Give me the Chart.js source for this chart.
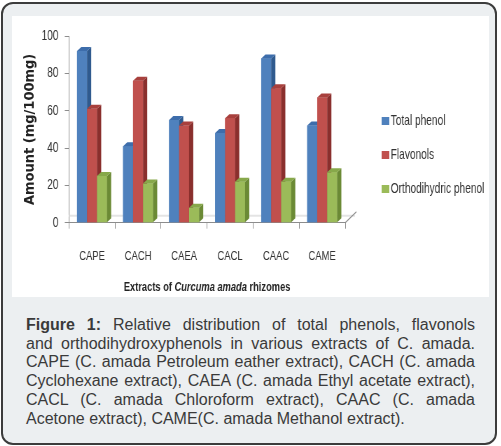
<!DOCTYPE html>
<html>
<head>
<meta charset="utf-8">
<script src="https://cdn.jsdelivr.net/npm/chart.js@4.4.0/dist/chart.umd.min.js"></script>
<style>
  html, body { margin: 0; padding: 0; background: #fff; }
  body { width: 501px; height: 446px; position: relative; overflow: hidden; }
  #frame { position: absolute; left: 1px; top: 2px; width: 492px; height: 439px;
           border: 2px solid #3c3c3c; border-radius: 12px; background: #eceff1; }
  #plot { position: absolute; left: 12px; top: 16px; width: 477px; height: 281px;
          background: #fff; overflow: hidden; }
  /* the original figure uses a narrow font, so the canvas is squeezed horizontally */
  #plot canvas { transform: scaleX(0.7); transform-origin: 0 0; }
  #caption { position: absolute; left: 26px; top: 316px; width: 449px;
             font: 16px/18.7px "Liberation Sans", Arial, sans-serif; color: #3a3a3a; }
  #caption div { text-align: justify; text-align-last: justify; }
  #caption div.last { text-align-last: left; }
</style>
</head>
<body>
<div id="frame"></div>
<div id="plot"><canvas id="chart" width="681" height="281" style="width:681px;height:281px"></canvas></div>
<div id="caption">
  <div><b>Figure 1:</b> Relative distribution of total phenols, flavonols</div>
  <div>and orthodihydroxyphenols in various extracts of C. amada.</div>
  <div>CAPE (C. amada Petroleum eather extract), CACH (C. amada</div>
  <div>Cyclohexane extract), CAEA (C. amada Ethyl acetate extract),</div>
  <div>CACL (C. amada Chloroform extract), CAAC (C. amada</div>
  <div class="last">Acetone extract), CAME(C. amada Methanol extract).</div>
</div>
<script>
// data (mg/100mg)
const categories = ['CAPE', 'CACH', 'CAEA', 'CACL', 'CAAC', 'CAME'];
const totalPhenol = [92, 41, 55, 48, 88, 52];
const flavonols = [61, 76, 52, 56, 72, 67];
const orthodihydric = [25, 21, 8, 22, 22, 27];
const seriesNames = ['Total phenol', 'Flavonols', 'Orthodihydric phenol'];
const yTicks = [0, 20, 40, 60, 80, 100];

const fronts = ['#4f81bd', '#c0504d', '#9bbb59'];
const sides = ['#2f5a8e', '#8a2f2d', '#6b8a35'];
const tops = ['#3d6dab', '#a8403d', '#87a84a'];

const SX = 0.7;                // horizontal squeeze of the canvas
const DX = 6, DY = 4;          // 3d depth of the bars
const FONT = "'Liberation Sans', Arial, sans-serif";

// fake 3d: redraw each bar front with a side and a cap, category by category
const bar3d = {
  id: 'bar3d',
  beforeDatasetsDraw(chart) {
    const { ctx, chartArea: a } = chart;
    ctx.save();
    ctx.strokeStyle = '#e4e4e4';
    ctx.lineWidth = 2;
    ctx.beginPath();
    ctx.moveTo(a.left, a.bottom - 7);
    ctx.lineTo(a.right + 14, a.bottom - 7);
    ctx.stroke();
    ctx.strokeStyle = '#8c8c8c';
    ctx.lineWidth = 1.2;
    ctx.beginPath();
    ctx.moveTo(a.right, a.bottom);
    ctx.lineTo(a.right + 16, a.bottom - 11);
    ctx.stroke();
    ctx.restore();
  },
  afterDatasetsDraw(chart) {
    const ctx = chart.ctx;
    const metas = chart.data.datasets.map((d, i) => chart.getDatasetMeta(i));
    ctx.save();
    for (let j = 0; j < categories.length; j++) {
      metas.forEach((meta, i) => {
        const p = meta.data[j].getProps(['x', 'y', 'base', 'width'], true);
        const l = p.x - p.width / 2, r = p.x + p.width / 2;
        ctx.fillStyle = fronts[i];
        ctx.fillRect(l, p.y, p.width, p.base - p.y);
        ctx.fillStyle = sides[i];
        ctx.beginPath();
        ctx.moveTo(r, p.y);
        ctx.lineTo(r + DX, p.y - DY);
        ctx.lineTo(r + DX, p.base - DY);
        ctx.lineTo(r, p.base);
        ctx.closePath();
        ctx.fill();
        ctx.fillStyle = tops[i];
        ctx.beginPath();
        ctx.moveTo(l, p.y);
        ctx.lineTo(l + DX, p.y - DY);
        ctx.lineTo(r + DX, p.y - DY);
        ctx.lineTo(r, p.y);
        ctx.closePath();
        ctx.fill();
      });
    }
    ctx.restore();
  },
  afterDraw(chart) {
    const { ctx, chartArea: a } = chart;
    ctx.save();
    ctx.fillStyle = '#222';
    ctx.textBaseline = 'middle';

    // y title, drawn unsqueezed (wide bold font in the original)
    ctx.save();
    ctx.translate(25.7, (a.top + a.bottom) / 2);
    ctx.scale(1 / SX, 1);
    ctx.rotate(-Math.PI / 2);
    ctx.font = "bold 13px 'DejaVu Sans', sans-serif";
    ctx.textAlign = 'center';
    ctx.fillText('Amount (mg/100mg)', 0, 0);
    ctx.restore();

    // x title with the italic species name
    const parts = [
      ['Extracts of ', 'bold 13.3px ' + FONT],
      ['Curcuma amada', 'italic bold 13.3px ' + FONT],
      [' rhizomes', 'bold 13.3px ' + FONT]
    ];
    let w = 0;
    parts.forEach(([t, f]) => { ctx.font = f; w += ctx.measureText(t).width; });
    let x = (a.left + a.right) / 2 - w / 2;
    ctx.textAlign = 'left';
    parts.forEach(([t, f]) => { ctx.font = f; ctx.fillText(t, x, 271); x += ctx.measureText(t).width; });

    // legend
    ctx.font = '14.5px ' + FONT;
    chart.data.datasets.forEach((ds, i) => {
      const yy = 105 + i * 34;
      ctx.fillStyle = ds.backgroundColor;
      ctx.fillRect(528, yy - 4, 11, 8);
      ctx.fillStyle = '#333';
      ctx.fillText(ds.label, 541, yy);
    });
    ctx.restore();
  }
};

new Chart(document.getElementById('chart'), {
  type: 'bar',
  data: {
    labels: categories,
    datasets: [
      { label: seriesNames[0], data: totalPhenol, backgroundColor: fronts[0] },
      { label: seriesNames[1], data: flavonols, backgroundColor: fronts[1] },
      { label: seriesNames[2], data: orthodihydric, backgroundColor: fronts[2] }
    ]
  },
  options: {
    responsive: false,
    animation: false,
    layout: { padding: { top: 20, right: 205, left: 0, bottom: 0 } },
    datasets: { bar: { categoryPercentage: 0.65, barPercentage: 1.0, borderWidth: 0 } },
    plugins: { legend: { display: false }, tooltip: { enabled: false } },
    scales: {
      x: {
        afterFit(s) { s.height = 74.3; },
        grid: { offset: true, drawOnChartArea: false, drawTicks: true, tickLength: 6, color: '#8c8c8c' },
        border: { display: true, color: '#8c8c8c' },
        ticks: { color: '#333', padding: 19, font: { family: FONT, size: 13.5 } }
      },
      y: {
        min: 0,
        max: 100,
        afterFit(s) { s.width = 81.4; },
        afterBuildTicks(s) { s.ticks = yTicks.map(v => ({ value: v })); },
        grid: { drawOnChartArea: false, drawTicks: true, tickLength: 6, color: '#8c8c8c' },
        border: { display: true, color: '#8c8c8c' },
        ticks: { color: '#333', padding: 9, font: { family: FONT, size: 14.5 } }
      }
    }
  },
  plugins: [bar3d]
});
</script>
</body>
</html>
